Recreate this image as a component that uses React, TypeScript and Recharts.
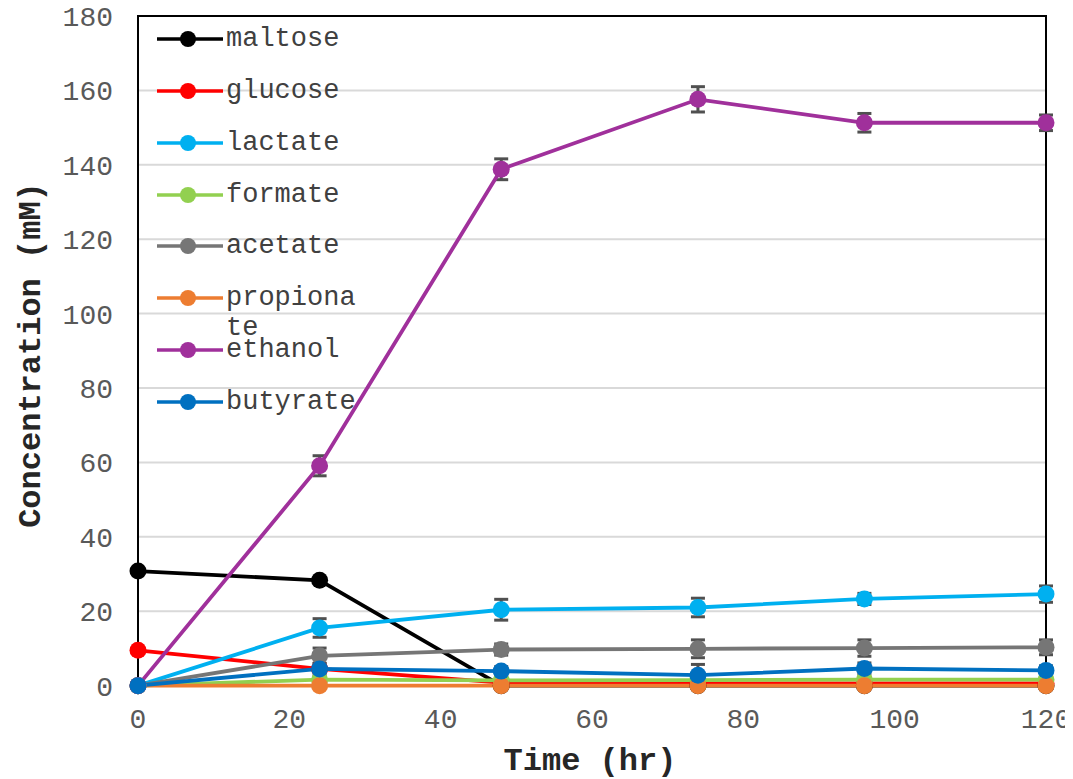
import React from "react";
import { LineChart, Line, XAxis, YAxis, CartesianGrid, ErrorBar, ReferenceArea } from "recharts";

const hours = [0, 24, 48, 74, 96, 120];
const xTicks = [0, 20, 40, 60, 80, 100, 120];
const yTicks = [0, 20, 40, 60, 80, 100, 120, 140, 160, 180];

const maltose = [30.8, 28.3, 0, 0, 0, 0];
const glucose = [9.5, 4.5, 0.8, 0.6, 0.6, 0.6];
const lactate = [0, 15.5, 20.4, 21.0, 23.3, 24.6];
const formate = [0, 1.6, 1.4, 1.5, 1.6, 1.6];
const acetate = [0, 8.0, 9.7, 9.9, 10.1, 10.3];
const propionate = [0, 0, 0, 0, 0, 0];
const ethanol = [0, 59.1, 138.8, 157.6, 151.3, 151.3];
const butyrate = [0, 4.5, 3.9, 2.8, 4.6, 4.1];

const lactateErr = [0, 2.5, 2.8, 2.5, 1.5, 2.2];
const acetateErr = [0, 2.1, 1.5, 2.4, 2.2, 2.0];
const ethanolErr = [0, 2.7, 2.8, 3.4, 2.5, 2.1];
const butyrateErr = [0, 1.5, 1.2, 2.9, 1.5, 1.2];

const seriesNames = ["maltose", "glucose", "lactate", "formate", "acetate", "propionate", "ethanol", "butyrate"];
const seriesColors = ["#000000", "#FF0000", "#00B0F0", "#92D050", "#767676", "#ED7D31", "#A0309B", "#0070C0"];
const seriesValues = [maltose, glucose, lactate, formate, acetate, propionate, ethanol, butyrate];
const seriesErrors: Record<string, number[]> = {
  lactate: lactateErr,
  acetate: acetateErr,
  ethanol: ethanolErr,
  butyrate: butyrateErr,
};

const data = hours.map((t, i) => {
  const row: Record<string, number> = { t };
  seriesNames.forEach((n, s) => {
    row[n] = seriesValues[s][i];
    if (seriesErrors[n]) row[n + "Err"] = seriesErrors[n][i];
  });
  return row;
});

const MONO = "'Liberation Mono', 'Courier New', monospace";

const ChartLegend = () => (
  <div style={{ position: "absolute", left: 157, top: 24, width: 220, height: 400 }}>
    {seriesNames.map((n, i) => (
      <div
        key={n}
        style={{
          position: "absolute",
          left: 0,
          top: i * 51.86,
          display: "flex",
          alignItems: "flex-start",
        }}
      >
        <svg width={66} height={30} style={{ display: "block" }}>
          <line x1={0} y1={15} x2={66} y2={15} stroke={seriesColors[i]} strokeWidth={3.5} />
          <circle cx={31} cy={15} r={8} fill={seriesColors[i]} />
        </svg>
        <div
          style={{
            marginLeft: 3,
            maxWidth: 132,
            wordBreak: "break-all",
            fontFamily: MONO,
            fontSize: 27,
            lineHeight: "30px",
            color: "#404040",
          }}
        >
          {n}
        </div>
      </div>
    ))}
  </div>
);

export default function App() {
  return (
    <div
      style={{
        position: "relative",
        width: 1073,
        height: 779,
        margin: "-8px 0 0 -8px",
        background: "#fff",
        overflow: "hidden",
      }}
    >
      <LineChart
        width={1073}
        height={779}
        data={data}
        margin={{ top: 16, right: 27, left: 58, bottom: 33 }}
      >
        <CartesianGrid horizontal={true} vertical={false} stroke="#D9D9D9" strokeWidth={2} />
        <XAxis
          dataKey="t"
          type="number"
          domain={[0, 120]}
          ticks={xTicks}
          height={60}
          axisLine={false}
          tickLine={false}
          tickSize={0}
          tickMargin={22}
          tick={{ fontFamily: MONO, fontSize: 28, fill: "#595959" }}
        />
        <YAxis
          type="number"
          domain={[0, 180]}
          ticks={yTicks}
          width={80}
          axisLine={false}
          tickLine={false}
          tickSize={0}
          tickMargin={25}
          tick={{ fontFamily: MONO, fontSize: 28, fill: "#595959" }}
        />
        <ReferenceArea x1={0} x2={120} y1={0} y2={180} fill="none" stroke="#000" strokeWidth={2} ifOverflow="visible" />
        {seriesNames.map((n, i) => (
          <Line
            key={n}
            dataKey={n}
            stroke={seriesColors[i]}
            strokeWidth={3.8}
            dot={{ r: 8.5, fill: seriesColors[i], stroke: seriesColors[i], strokeWidth: 0 }}
            activeDot={false}
            isAnimationActive={false}
          >
            {seriesErrors[n] ? (
              <ErrorBar dataKey={n + "Err"} direction="y" width={7} strokeWidth={3} stroke="#505050" />
            ) : null}
          </Line>
        ))}
      </LineChart>
      <ChartLegend />
      <div
        style={{
          position: "absolute",
          left: 32,
          top: 355,
          transform: "translate(-50%, -50%) rotate(-90deg)",
          whiteSpace: "nowrap",
          fontFamily: MONO,
          fontWeight: "bold",
          fontSize: 32,
          lineHeight: 1,
          color: "#262626",
        }}
      >
        Concentration (mM)
      </div>
      <div
        style={{
          position: "absolute",
          left: 590,
          top: 762,
          transform: "translate(-50%, -50%)",
          whiteSpace: "nowrap",
          fontFamily: MONO,
          fontWeight: "bold",
          fontSize: 32,
          lineHeight: 1,
          color: "#262626",
        }}
      >
        Time (hr)
      </div>
    </div>
  );
}
